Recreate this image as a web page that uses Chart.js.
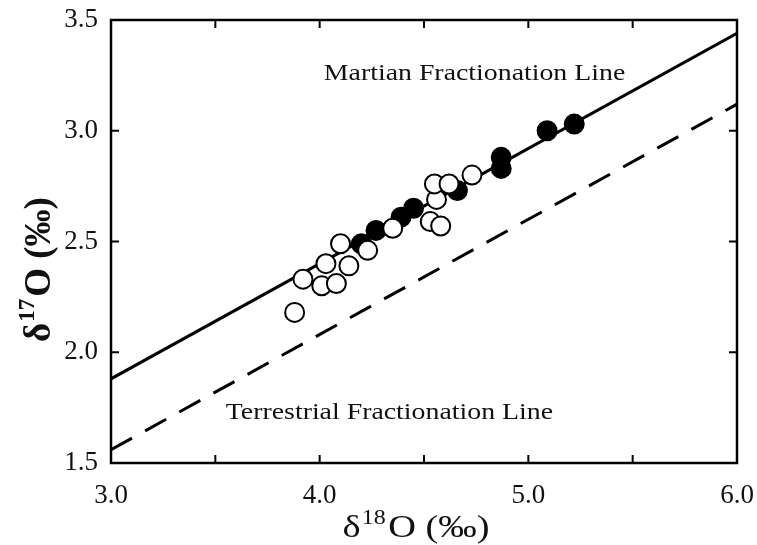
<!DOCTYPE html>
<html>
<head>
<meta charset="utf-8">
<script src="https://cdn.jsdelivr.net/npm/chart.js@4/dist/chart.umd.min.js"></script>
<style>
  body{margin:0;background:#fff;}
  #wrap{width:757px;height:545px;}
</style>
</head>
<body>
<div id="wrap"><canvas id="chart" width="757" height="545"></canvas></div>
<script>
// samples
const openX = [3.88, 3.92, 4.01, 4.03, 4.08, 4.10, 4.14, 4.23, 4.35, 4.53, 4.58, 4.56, 4.55, 4.62, 4.73];
const openY = [2.18, 2.33, 2.30, 2.40, 2.31, 2.49, 2.39, 2.46, 2.56, 2.59, 2.57, 2.69, 2.76, 2.76, 2.80];
const filledX = [4.20, 4.27, 4.39, 4.45, 4.66, 4.87, 4.87, 5.09, 5.22];
const filledY = [2.49, 2.55, 2.61, 2.65, 2.73, 2.88, 2.83, 3.00, 3.03];

// fractionation lines
const lineX = [3.0, 6.0];
const martianY = [1.88, 3.44];
const terrestrialY = [1.56, 3.12];

const xMin = 3.0, xMax = 6.0, xStep = 0.5;
const yMin = 1.5, yMax = 3.5, yStep = 0.5;

const lineLabels = [
  {text: "Martian Fractionation Line", x: 4.02, y: 3.23},
  {text: "Terrestrial Fractionation Line", x: 3.55, y: 1.70}
];

function pts(xs, ys) {
  return xs.map((x, i) => ({x: x, y: ys[i]}));
}

const serif = "'Liberation Serif', 'Times New Roman', serif";

// frame, inward ticks, labels and axis titles
const framePlugin = {
  id: "frame",
  afterDraw(chart) {
    const ctx = chart.ctx;
    const a = chart.chartArea;
    const xs = chart.scales.x, ys = chart.scales.y;
    ctx.save();
    ctx.strokeStyle = "#000";
    ctx.lineWidth = 2.5;
    ctx.strokeRect(a.left, a.top, a.right - a.left, a.bottom - a.top);
    ctx.lineWidth = 2;
    ctx.beginPath();
    xs.ticks.forEach(t => {
      let px = xs.getPixelForValue(t.value);
      ctx.moveTo(px, a.bottom); ctx.lineTo(px, a.bottom - 8);
      ctx.moveTo(px, a.top); ctx.lineTo(px, a.top + 8);
    });
    ys.ticks.forEach(t => {
      let py = ys.getPixelForValue(t.value);
      ctx.moveTo(a.left, py); ctx.lineTo(a.left + 8, py);
      ctx.moveTo(a.right, py); ctx.lineTo(a.right - 8, py);
    });
    ctx.stroke();

    // line names
    ctx.fillStyle = "#111";
    ctx.font = "23px " + serif;
    ctx.textBaseline = "alphabetic";
    ctx.textAlign = "left";
    lineLabels.forEach(l => {
      ctx.save();
      ctx.translate(xs.getPixelForValue(l.x), ys.getPixelForValue(l.y));
      ctx.scale(1.21, 1);
      ctx.fillText(l.text, 0, 0);
      ctx.restore();
    });

    // x title  δ18O (‰)
    ctx.save();
    ctx.translate((a.left + a.right) / 2 - 8, 537);
    ctx.scale(1.2, 1);
    drawDelta(ctx, "18", 0, 0, "normal", 32);
    ctx.restore();
    // y title  δ17O (‰)
    ctx.save();
    ctx.translate(50, (a.top + a.bottom) / 2 + 28);
    ctx.rotate(-Math.PI / 2);
    drawDelta(ctx, "17", 0, 0, "bold", 37);
    ctx.restore();
    ctx.restore();
  }
};

function drawDelta(ctx, iso, cx, base, weight, size) {
  const big = weight + " " + size + "px " + serif;
  const small = weight + " " + Math.round(size * 0.62) + "px " + serif;
  ctx.font = big;
  let w1 = ctx.measureText("\u03b4").width;
  let w3 = ctx.measureText("O (\u2030)").width;
  ctx.font = small;
  let w2 = ctx.measureText(iso).width + 3;
  let x = cx - (w1 + w2 + w3) / 2;
  ctx.textAlign = "left";
  ctx.fillStyle = "#111";
  ctx.font = big;
  ctx.fillText("\u03b4", x, base);
  ctx.font = small;
  ctx.fillText(iso, x + w1 + 1, base - size * 0.42);
  ctx.font = big;
  ctx.fillText("O (\u2030)", x + w1 + w2, base);
}

const ctx = document.getElementById("chart").getContext("2d");
const chart = new Chart(ctx, {
  type: "scatter",
  data: {
    datasets: [
      {
        label: "open",
        data: pts(openX, openY),
        pointRadius: 9.5,
        pointBorderWidth: 2,
        pointBackgroundColor: "#fff",
        pointBorderColor: "#000",
        order: 0
      },
      {
        label: "filled",
        data: pts(filledX, filledY),
        pointRadius: 9.5,
        pointBorderWidth: 2,
        pointBackgroundColor: "#000",
        pointBorderColor: "#000",
        order: 1
      },
      {
        label: "Martian Fractionation Line",
        type: "line",
        data: pts(lineX, martianY),
        borderColor: "#000",
        borderWidth: 3,
        pointRadius: 0,
        fill: false,
        order: 2
      },
      {
        label: "Terrestrial Fractionation Line",
        type: "line",
        data: pts(lineX, terrestrialY),
        borderColor: "#000",
        borderWidth: 3,
        borderDash: [24, 15],
        pointRadius: 0,
        fill: false,
        order: 3
      }
    ]
  },
  options: {
    responsive: false,
    animation: false,
    layout: {padding: {top: 20, right: 20, left: 0, bottom: 0}},
    plugins: {legend: {display: false}, tooltip: {enabled: false}},
    scales: {
      x: {
        type: "linear",
        min: xMin, max: xMax,
        grid: {display: false},
        border: {display: false},
        afterFit: s => { s.height = 82; s.paddingLeft = 0; s.paddingRight = 0; },
        ticks: {
          stepSize: xStep,
          autoSkip: false,
          maxRotation: 0,
          padding: 9,
          color: "#111",
          font: {family: serif, size: 27},
          callback: v => (v % 1 === 0 ? v.toFixed(1) : "")
        }
      },
      y: {
        type: "linear",
        min: yMin, max: yMax,
        grid: {display: false},
        border: {display: false},
        afterFit: s => { s.width = 111; s.paddingTop = 0; s.paddingBottom = 0; },
        ticks: {
          stepSize: yStep,
          autoSkip: false,
          padding: 5,
          color: "#111",
          font: {family: serif, size: 27},
          callback: v => v.toFixed(1)
        }
      }
    }
  },
  plugins: [framePlugin]
});
</script>
</body>
</html>
